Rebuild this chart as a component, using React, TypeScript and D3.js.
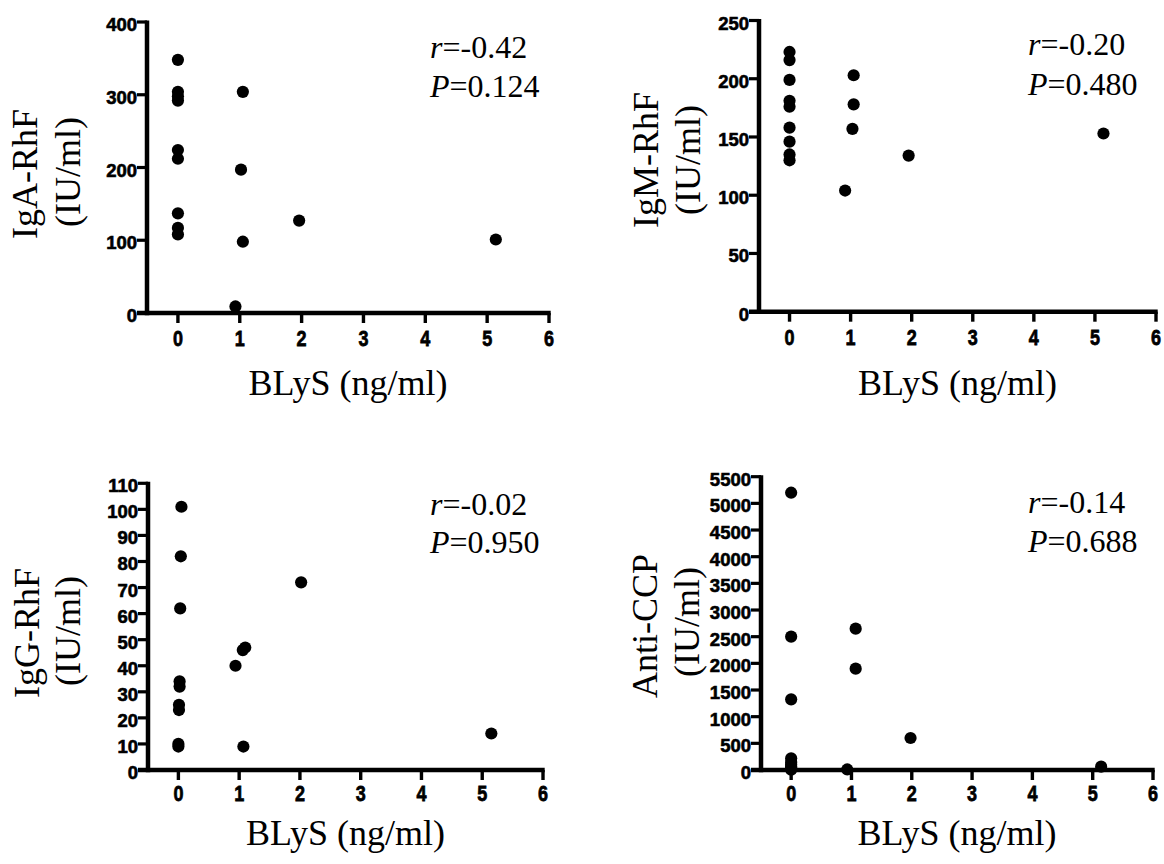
import React from "react";
import * as d3 from "d3";

// ---------- data ----------
const xTicks = [0, 1, 2, 3, 4, 5, 6];

const igaX = [0, 0, 0, 0, 0, 0, 0, 0, 0, 1.05, 1.02, 1.05, 0.93, 1.96, 5.14];
const igaY = [348, 304, 298, 292, 224, 212, 137, 117, 108, 304, 197, 98, 9, 127, 101];
const igaTicks = [0, 100, 200, 300, 400];

const igmX = [0, 0, 0, 0, 0, 0, 0, 0, 0, 1.05, 1.05, 1.03, 0.91, 1.95, 5.14];
const igmY = [223, 216, 199, 181, 176, 158, 146, 135, 130, 203, 178, 157, 104, 134, 153];
const igmTicks = [0, 50, 100, 150, 200, 250];

const iggX = [0.05, 0.04, 0.03, 0.02, 0.02, 0.01, 0.01, 0.0, 0.0, 0.94, 1.06, 1.1, 1.07, 2.02, 5.15];
const iggY = [101, 82, 62, 34, 32, 25, 23, 10, 9, 40, 46, 47, 9, 72, 14];
const iggTicks = [0, 10, 20, 30, 40, 50, 60, 70, 80, 90, 100, 110];

const ccpX = [0, 0, 0, 0, 0, 0, 0, 0, 0, 1.07, 1.07, 0.93, 0.0, 1.98, 5.14];
const ccpY = [5200, 2500, 1325, 220, 150, 100, 60, 20, 5, 2650, 1900, 10, 40, 600, 63];
const ccpTicks = [0, 500, 1000, 1500, 2000, 2500, 3000, 3500, 4000, 4500, 5000, 5500];

const yLabels = [
  ["IgA-RhF", "(IU/ml)"],
  ["IgM-RhF", "(IU/ml)"],
  ["IgG-RhF", "(IU/ml)"],
  ["Anti-CCP", "(IU/ml)"],
];
const rValues = ["=-0.42", "=-0.20", "=-0.02", "=-0.14"];
const pValues = ["=0.124", "=0.480", "=0.950", "=0.688"];
const xLabel = "BLyS (ng/ml)";

// ---------- layout ----------
const layouts = [
  { left: 147, right: 549, top: 22, bottom: 313, lab1: 37, lab2: 79.5, labCy1: 174, labCy2: 172, annX: 430, annY1: 58, annY2: 97, titleY: 395, tickOff: 33 },
  { left: 759, right: 1156, top: 20.5, bottom: 311.7, lab1: 658, lab2: 700, labCy1: 160, labCy2: 160, annX: 1028, annY1: 55, annY2: 95, titleY: 395, tickOff: 33 },
  { left: 148, right: 543, top: 483.3, bottom: 770, lab1: 39, lab2: 80, labCy1: 633, labCy2: 631, annX: 430, annY1: 515, annY2: 553, titleY: 845, tickOff: 31 },
  { left: 761, right: 1153, top: 476.7, bottom: 770, lab1: 657, lab2: 699, labCy1: 626, labCy2: 622, annX: 1028, annY1: 513, annY2: 552, titleY: 845, tickOff: 31 },
];

const panels = [
  { xs: igaX, ys: igaY, ticks: igaTicks },
  { xs: igmX, ys: igmY, ticks: igmTicks },
  { xs: iggX, ys: iggY, ticks: iggTicks },
  { xs: ccpX, ys: ccpY, ticks: ccpTicks },
];

const serif = "'Liberation Serif', 'Times New Roman', serif";
const sans = "'Liberation Sans', Arial, sans-serif";

function Panel({ idx }: { idx: number }) {
  const L = layouts[idx];
  const P = panels[idx];
  const x = d3.scaleLinear().domain([-0.5, 6]).range([L.left, L.right]);
  const yMax = P.ticks[P.ticks.length - 1];
  const y = d3.scaleLinear().domain([0, yMax]).range([L.bottom, L.top]);
  const sw = 4.5;
  return (
    <g>
      {/* y axis */}
      <line x1={L.left} x2={L.left} y1={y(yMax) - 1.5} y2={L.bottom + sw / 2} stroke="#000" strokeWidth={sw} />
      {/* x axis */}
      <line x1={L.left - 10} x2={x(6) + 1.7} y1={L.bottom} y2={L.bottom} stroke="#000" strokeWidth={sw} />
      {P.ticks.map((t) => (
        <g key={"y" + t}>
          <line x1={L.left - 10} x2={L.left} y1={y(t)} y2={y(t)} stroke="#000" strokeWidth={3.2} />
          <text
            x={L.left - 10}
            y={y(t) + 9}
            textAnchor="end"
            fontFamily={sans}
            fontWeight="bold"
            fontSize={18.5}
            stroke="#000"
            strokeWidth={0.6}
          >
            {t}
          </text>
        </g>
      ))}
      {xTicks.map((t) => (
        <g key={"x" + t}>
          <line x1={x(t)} x2={x(t)} y1={L.bottom} y2={L.bottom + 10} stroke="#000" strokeWidth={3.4} />
          <text
            transform={`translate(${x(t)},${L.bottom + L.tickOff}) scale(1,1.25)`}
            textAnchor="middle"
            fontFamily={sans}
            fontWeight="bold"
            fontSize={18}
            stroke="#000"
            strokeWidth={0.6}
          >
            {t}
          </text>
        </g>
      ))}
      {P.xs.map((xv, i) => (
        <circle key={"p" + i} cx={x(xv)} cy={y(P.ys[i])} r={6.1} fill="#000" />
      ))}
      <text x={(L.left + L.right) / 2} y={L.titleY} textAnchor="middle" fontFamily={serif} fontSize={36}>
        {xLabel}
      </text>
      <text transform={`translate(${L.lab1},${L.labCy1}) rotate(-90)`} textAnchor="middle" fontFamily={serif} fontSize={36}>
        {yLabels[idx][0]}
      </text>
      <text transform={`translate(${L.lab2},${L.labCy2}) rotate(-90)`} textAnchor="middle" fontFamily={serif} fontSize={36}>
        {yLabels[idx][1]}
      </text>
      <text x={L.annX} y={L.annY1} fontFamily={serif} fontSize={32}>
        <tspan fontStyle="italic">r</tspan>
        {rValues[idx]}
      </text>
      <text x={L.annX} y={L.annY2} fontFamily={serif} fontSize={32}>
        <tspan fontStyle="italic">P</tspan>
        {pValues[idx]}
      </text>
    </g>
  );
}

export default function App() {
  return (
    <svg width={1164} height={864} style={{ position: "absolute", left: 0, top: 0, background: "#fff" }}>
      <rect width={1164} height={864} fill="#fff" />
      {[0, 1, 2, 3].map((i) => (
        <Panel key={i} idx={i} />
      ))}
    </svg>
  );
}
